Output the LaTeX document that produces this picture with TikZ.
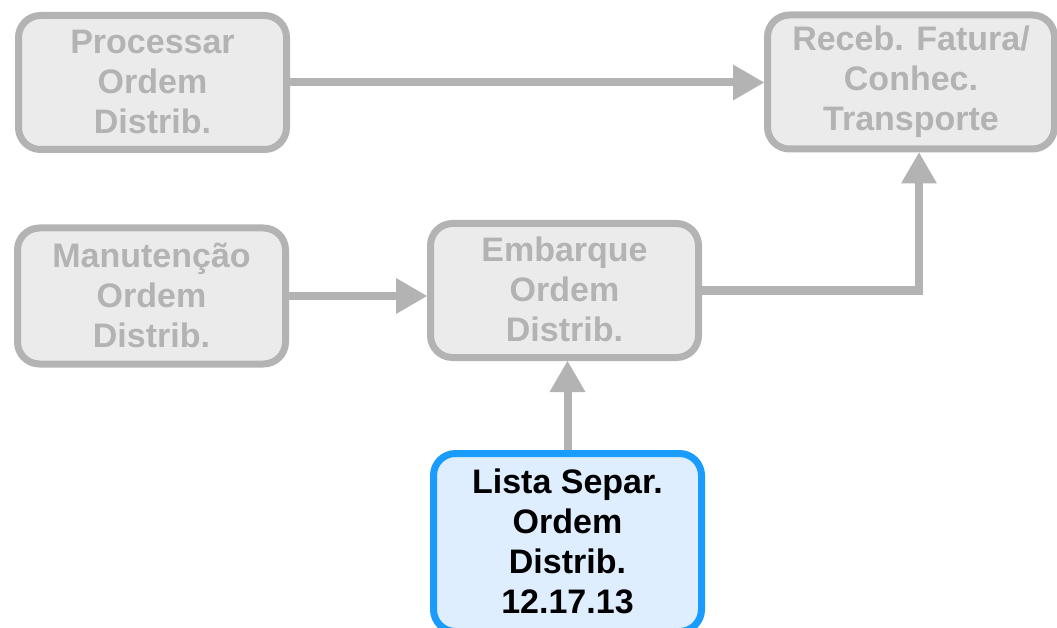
\documentclass[tikz,border=0pt]{standalone}
\usepackage{fontspec}
\setmainfont{Liberation Sans}
\usepackage{tikz}
\usetikzlibrary{arrows.meta, positioning}
\usepackage{xcolor}
\definecolor{linegray}{HTML}{B3B3B3}
\definecolor{boxgray}{HTML}{EBEBEB}
\definecolor{activeblue}{HTML}{1A9CFE}
\definecolor{activefill}{HTML}{DEEEFE}
\newcommand{\linestrut}{\rule[-2pt]{0pt}{36pt}}

\begin{document}
\begin{tikzpicture}[
            x=1pt, y=1pt,
            every node/.style={draw, rounded corners=22pt, line width=7pt, minimum width=268pt, minimum height=134pt, inner sep=0pt, align=center, font=\bfseries\fontsize{34}{40}\selectfont, execute at begin node=\linestrut, execute at end node=\linestrut},
            faded/.style={draw=linegray, fill=boxgray, text=linegray},
            current/.style={draw=activeblue, fill=activefill, text=black},
            >={Triangle[length=31pt, width=36pt, line width=0pt]}
        ]
            \useasboundingbox (0,0) rectangle (1057,-628);
            \node[faded] (pod) at (152.5,-82.5) {Processar\\Ordem\\Distrib.};
            \node[faded, minimum width=287pt] (rf) at (911,-82) {Receb. Fatura/\\Conhec.\\Transporte};
            \node[faded, minimum height=136pt] (mod) at (151.5,-296) {Manutenção\\Ordem\\Distrib.};
            \node[faded] (eod) at (564.5,-290.5) {Embarque\\Ordem\\Distrib.};
            \node[current, minimum height=178pt] (ls) at (567.5,-542.5) {Lista Separ.\\Ordem\\Distrib.\\12.17.13};
            \path[color=linegray, line width=8pt, every edge/.append style={->}]
            (pod.east) edge (pod.east -| rf.west)
            (mod.east) edge (mod.east -| eod.west)
            (eod.east) edge[to path={-| (\tikztotarget)}] ([xshift=8pt]rf.south)
            (ls.north) edge (ls.north |- eod.south)
            ;
        \end{tikzpicture}
\end{document}
